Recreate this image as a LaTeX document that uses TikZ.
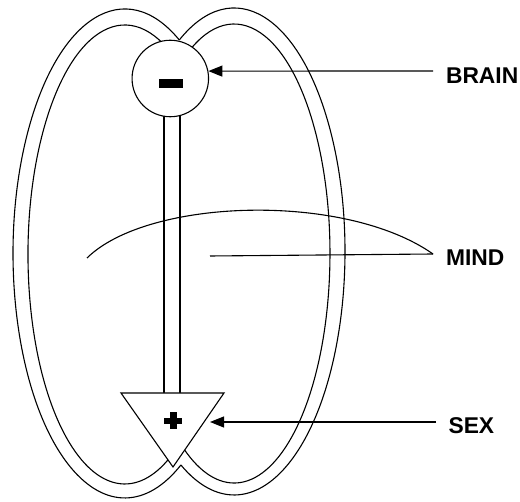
\documentclass[tikz,border=0pt]{standalone}
\usepackage{fontspec}
\setmainfont{Liberation Sans}
\usetikzlibrary{arrows.meta}
\begin{document}
\begin{tikzpicture}[x=1pt,y=-1pt,line width=1.1pt,
  lbl/.style={anchor=base west,inner sep=0pt,font=\fontsize{22.8}{23}\selectfont\bfseries},
  ptr/.style={-{Triangle[length=14pt,width=11pt]}},
  lobe/.style={line width=1.1pt},
  organ/.style={draw,fill=white,line width=1.1pt}]
\useasboundingbox (0,0) rectangle (520,502);
% lobes (double outlines)
\draw[lobe] (179.3,40) arc[start angle=-60.83,end angle=-300.1,x radius=111.8,y radius=244.5];
\draw[lobe] (179.3,40) arc[start angle=-119.7,end angle=118.74,x radius=110.8,y radius=243.5];
\draw[lobe] (180.3,66.5) arc[start angle=-55,end angle=-300,x radius=96.8,y radius=229.5];
\draw[lobe] (183.4,58.9) arc[start angle=-122,end angle=126,x radius=95.8,y radius=229.5];
% stem
\coordinate (s1t) at (164,110);
\coordinate (s1b) at (164,395);
\coordinate (s2t) at (180,110);
\coordinate (s2b) at (180,395);
\draw (s1t) -- (s1b);
\draw (s2t) -- (s2b);
% brain
\node[organ,circle,minimum size=76.5pt,inner sep=0pt] (brain) at (170.3,78.5) {};
\fill (159,79) rectangle (183,88);
% sex triangle
\coordinate (ta) at (121,393);
\coordinate (tb) at (224,393);
\coordinate (tc) at (173,467);
\filldraw[organ,line join=miter] (ta) -- (tb) -- (tc) -- cycle;
\fill (164,418) rectangle (182,424.5);
\fill (169.5,412) rectangle (176.5,429.5);
% mind
\coordinate (mindpt) at (433,254);
\coordinate (mindl) at (87,258);
\coordinate (minds) at (210,256);
\draw (mindl) .. controls (148,198) and (345,192) .. (mindpt);
\draw (minds) -- (mindpt);
% labels
\node[lbl] (tbrain) at (445.5,83.5) {BRAIN};
\node[lbl] (tmind) at (445.5,265.5) {MIND};
\node[lbl] (tsex) at (448,433.5) {SEX};
\coordinate (bs) at (433,71);
\coordinate (ss) at (436,422);
\coordinate (sextip) at (210,422);
\draw[ptr] (bs) -- (brain.11.4);
\draw[ptr] (ss) -- (sextip);
\end{tikzpicture}
\end{document}
